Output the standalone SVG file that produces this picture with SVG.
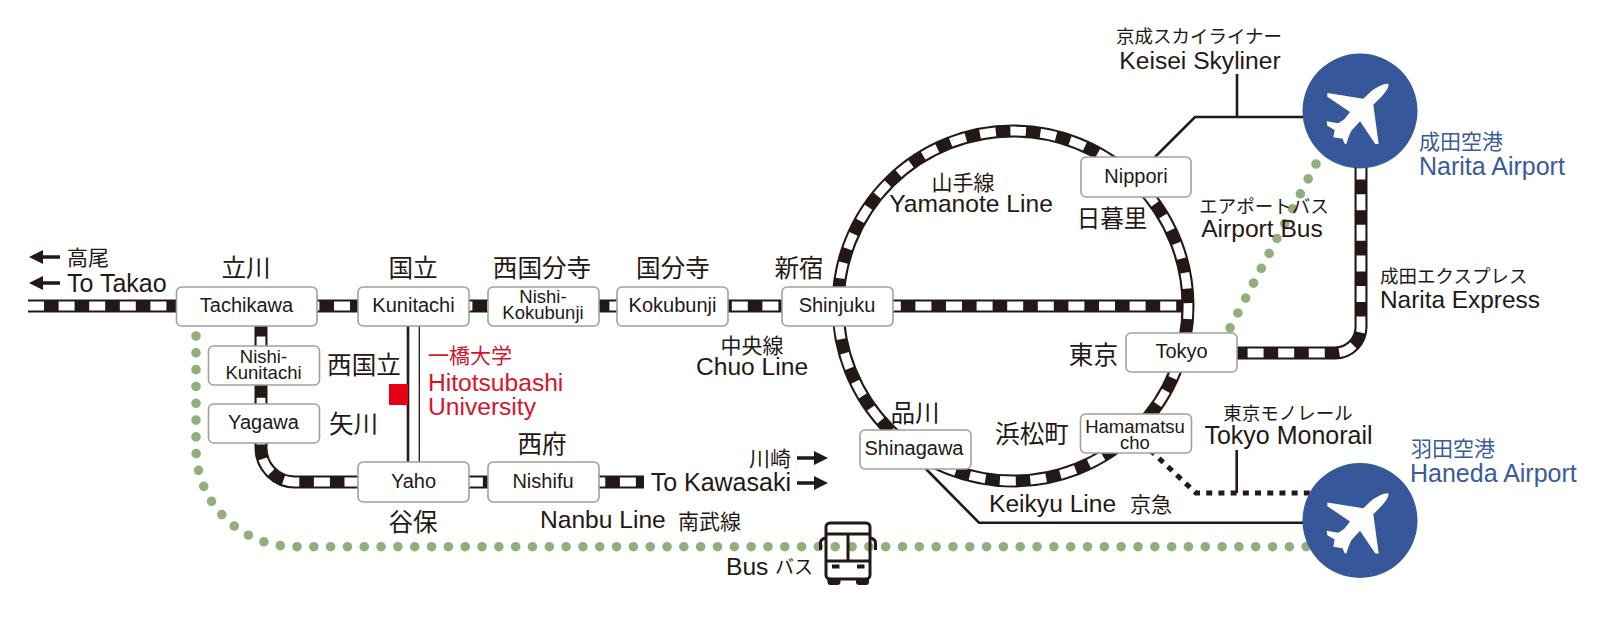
<svg xmlns="http://www.w3.org/2000/svg" xmlns:xlink="http://www.w3.org/1999/xlink" width="1617" height="625" viewBox="0 0 1617 625">
<style>
text{font-family:"Liberation Sans","Noto Sans CJK JP",sans-serif;fill:#231815;font-size:24.6px}
.m{text-anchor:middle}.e{text-anchor:end}
.s{font-size:20px}.j{font-size:21px}.k{font-size:18.5px}.t{font-size:18.5px}
.blue{fill:#3a5a98}.red{fill:#d3152e}
.box{fill:#fff;stroke:#a0a0a0;stroke-width:1.6}
.tb{fill:none;stroke:#231815;stroke-width:13}
.tw{fill:none;stroke:#fff;stroke-width:8.8;stroke-dasharray:16 14.6}
.ln{fill:none;stroke:#231815;stroke-width:2.6}
.dot{fill:none;stroke:#93ae7c;stroke-width:9.6;stroke-linecap:round;stroke-dasharray:0 16.82}
.bus{fill:none;stroke:#231815;stroke-width:3;stroke-linejoin:round}
.port{fill:#36589a}
.plane{fill:#fff}
</style>
<defs>
<path id="plane" class="plane" d="M235 71C238 82 225 100 208 116L190 134L206 252L196 252L150 184L124 212C118 224 112 240 109 253L103 250L98 236L70 232L74 210L52 197L50 184L85 190L103 178L120 156L52 110L52 99L160 116L182 95C200 80 222 70 235 71Z"/>
<path id="arrow" fill="#231815" d="M0 0L14 -7V-1.8H31V1.8H14V7Z"/>
</defs>
<rect width="1617" height="625" fill="#fff"/>
<g id="connectors">
<path class="ln" d="M1155 157L1195 117H1310M1237 74V117"/>
<path class="ln" d="M926 469L979 522.7H1310"/>
<path class="ln" d="M1236.7 450V493"/>
<path fill="none" stroke="#231815" stroke-width="5" stroke-dasharray="6 6.2" d="M1150 450L1196 493H1310"/>
<path class="ln" d="M408 326V462"/>
<path fill="none" stroke="#231815" stroke-width="1.3" d="M419.3 326V462"/>
<path class="dot" d="M196 336V448.1A98.6 98.6 0 0 0 294.6 546.7H1310"/>
<path class="dot" d="M1316 164L1230 328"/>
<path class="tb" d="M28 306H1188"/><path class="tw" d="M28 306H1188"/>
<path class="tb" d="M261 306V448A34 34 0 0 0 295 482H644"/><path class="tw" d="M261 306V448A34 34 0 0 0 295 482H644"/>
<path class="tb" d="M1361 133V327A26 26 0 0 1 1335 353H1200"/><path class="tw" d="M1361 133V327A26 26 0 0 1 1335 353H1200"/>
<path class="tb" d="M1013 131A175 175 0 1 1 1013 481A175 175 0 1 1 1013 131Z"/>
<path class="tw" style="stroke-dasharray:16 14.54;stroke-dashoffset:3" d="M1013 131A175 175 0 1 1 1013 481A175 175 0 1 1 1013 131Z"/>
<use xlink:href="#arrow" href="#arrow" transform="translate(29 257)"/>
<use xlink:href="#arrow" href="#arrow" transform="translate(29 283)"/>
<use xlink:href="#arrow" href="#arrow" transform="translate(828 458) scale(-1 1)"/>
<use xlink:href="#arrow" href="#arrow" transform="translate(828 483) scale(-1 1)"/>
</g>
<g id="tachikawa"><rect class="box" x="176.500" y="287" width="140.500" height="39" rx="5"/><text class="s m" x="246.500" y="312">Tachikawa</text><text class="m" x="246" y="277">立川</text></g>
<g id="kunitachi"><rect class="box" x="358" y="287" width="111" height="39" rx="5"/><text class="s m" x="413.500" y="312">Kunitachi</text><text class="m" x="413" y="277">国立</text></g>
<g id="nishi-kokubunji"><rect class="box" x="488" y="287" width="111" height="39" rx="5"/><text class="t m" x="543" y="303">Nishi-</text><text class="t m" x="543" y="319">Kokubunji</text><text class="m" x="542" y="277">西国分寺</text></g>
<g id="kokubunji"><rect class="box" x="617" y="287" width="111" height="39" rx="5"/><text class="s m" x="672.500" y="312">Kokubunji</text><text class="m" x="673" y="277">国分寺</text></g>
<g id="shinjuku"><rect class="box" x="782" y="287" width="111" height="39" rx="5"/><text class="s m" x="837" y="312">Shinjuku</text><text class="m" x="799" y="277">新宿</text></g>
<g id="nippori"><rect class="box" x="1081" y="157" width="110" height="40" rx="5"/><text class="s m" x="1136" y="183">Nippori</text><text class="m" x="1112" y="227" style="font-size:23.5px">日暮里</text></g>
<g id="tokyo"><rect class="box" x="1126" y="333" width="111" height="39" rx="5"/><text class="s m" x="1181.500" y="358">Tokyo</text><text class="e" x="1118" y="364">東京</text></g>
<g id="shinagawa"><rect class="box" x="860" y="430" width="111" height="39" rx="5"/><text class="s m" x="914" y="455">Shinagawa</text><text class="m" x="915" y="421.500">品川</text></g>
<g id="hamamatsucho"><rect class="box" x="1080.500" y="414" width="111" height="39" rx="5"/><text class="t m" x="1135" y="433">Hamamatsu</text><text class="t m" x="1135" y="449">cho</text><text class="m" x="1032" y="443">浜松町</text></g>
<g id="nishi-kunitachi"><rect class="box" x="208.500" y="346" width="111" height="39" rx="5"/><text class="t m" x="263.500" y="363">Nishi-</text><text class="t m" x="263.500" y="379">Kunitachi</text><text class="m" x="364" y="374">西国立</text></g>
<g id="yagawa"><rect class="box" x="208.500" y="404" width="111" height="39" rx="5"/><text class="s m" x="263.500" y="429">Yagawa</text><text x="329" y="433">矢川</text></g>
<g id="yaho"><rect class="box" x="358" y="462" width="111" height="40" rx="5"/><text class="s m" x="413.500" y="488">Yaho</text><text class="m" x="413" y="531">谷保</text></g>
<g id="nishifu"><rect class="box" x="488" y="462" width="111" height="40" rx="5"/><text class="s m" x="543" y="488">Nishifu</text><text class="m" x="542" y="453">西府</text></g>
<g id="hitotsubashi">
<rect x="389" y="384" width="19" height="21" fill="#e60012"/>
<text class="j red" x="428" y="363">一橋大学</text>
<text class="red" x="428" y="391">Hitotsubashi</text>
<text class="red" x="428" y="415">University</text>
</g>
<g id="narita"><circle class="port" cx="1360" cy="111" r="57.500"/><use xlink:href="#plane" href="#plane" transform="translate(1310 60) scale(.3333)"/>
<text class="j blue" x="1419" y="149">成田空港</text><text class="blue" x="1419" y="175" style="font-size:25px">Narita Airport</text></g>
<g id="haneda"><circle class="port" cx="1360" cy="520.500" r="57.500"/><use xlink:href="#plane" href="#plane" transform="translate(1310 469.500) scale(.3333)"/>
<text class="j blue" x="1411" y="456">羽田空港</text><text class="blue" x="1410" y="482" style="font-size:25px">Haneda Airport</text></g>
<g id="bus">
<rect x="826" y="523" width="44" height="56" rx="4" fill="#fff" class="bus"/>
<path class="bus" d="M826 534H870M848 534V561M826 561H870M826 538Q820.500 539 820.500 543V550M870 538Q875.500 539 875.500 543V550"/>
<path fill="#231815" d="M832 564.500h7.500v4h-7.500zM857 564.500h7.500v4h-7.500zM827.500 579h13v3q0 3 -3 3h-7q-3 0 -3 -3zM856 579h13v3q0 3 -3 3h-7q-3 0 -3 -3z"/>
</g>
<g id="labels">
<text class="j" x="67" y="265">高尾</text>
<text x="67" y="292" style="font-size:25px">To Takao</text>
<text class="j m" x="752" y="353">中央線</text>
<text class="m" x="752" y="375">Chuo Line</text>
<text class="j m" x="963" y="190">山手線</text>
<text class="m" x="971" y="212">Yamanote Line</text>
<text class="k m" x="1199" y="43">京成スカイライナー</text>
<text class="m" x="1200" y="69">Keisei Skyliner</text>
<text class="k m" x="1264" y="213">エアポートバス</text>
<text class="m" x="1262" y="237">Airport Bus</text>
<text class="k" x="1380" y="283">成田エクスプレス</text>
<text x="1380" y="308" style="font-size:24.4px">Narita Express</text>
<text class="k m" x="1288" y="420">東京モノレール</text>
<text class="m" x="1288.500" y="444" style="font-size:25px">Tokyo Monorail</text>
<text x="989" y="511.500">Keikyu Line</text>
<text class="j" x="1130" y="511.500">京急</text>
<text class="j e" x="791" y="466">川崎</text>
<text class="e" x="791" y="491" style="font-size:25px">To Kawasaki</text>
<text x="540" y="528">Nanbu Line</text>
<text class="j" x="678" y="529">南武線</text>
<text x="726" y="575">Bus</text>
<text x="775" y="574" style="font-size:19px">バス</text>
</g>
</svg>
